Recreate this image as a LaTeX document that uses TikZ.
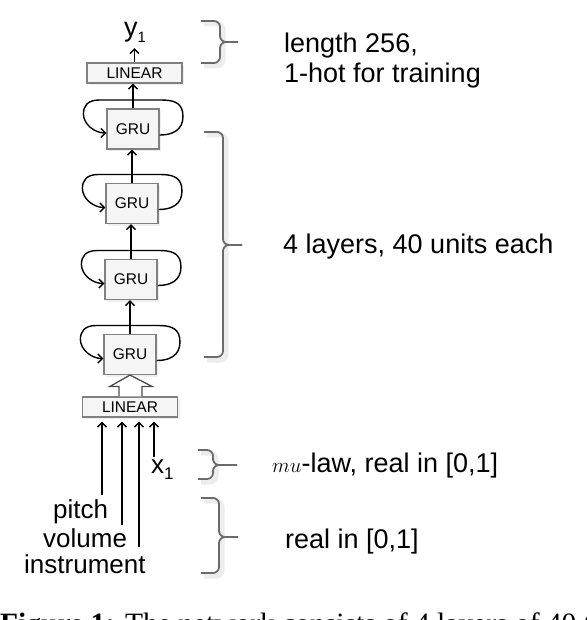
\documentclass[tikz,border=0pt]{standalone}
\usepackage{fontspec}
\setmainfont{Liberation Sans}
\newfontfamily\capfont{Liberation Serif}
\usetikzlibrary{arrows.meta,calc,shadows}

\tikzset{
 conn/.style={draw=black, line width=1.4pt, -{Straight Barb[length=4.5pt,width=9pt]}},
 grubox/.style={draw=black!50, fill=black!4, line width=1.2pt, minimum width=52pt, minimum height=40pt, inner sep=0pt,
   font=\fontsize{15.5}{16}\selectfont, drop shadow={opacity=0.12, shadow xshift=2pt, shadow yshift=-2pt}},
 linbox/.style={grubox, minimum width=95pt, minimum height=20pt},
 lbl/.style={anchor=base west, inner sep=0pt, font=\fontsize{27}{30}\selectfont},
 inlbl/.style={anchor=base west, inner sep=0pt, font=\fontsize{26}{28}\selectfont},
 bracestyle/.style={draw=black!58, line width=1.8pt, rounded corners=6pt},
 bracesh/.style={draw=black!7, line width=5pt, rounded corners=6pt},
 hollow/.style={draw=black!70, fill=white, line width=1.3pt, line join=miter}
}

\newcommand\mybrace[6]{%
 \draw[bracesh] (#1+3,#4+3) -- (#2+3,#4+3) -- (#2+3,#6+3) -- (#1+3,#6+3);
 \draw[bracestyle] (#1,#4) -- (#2,#4) -- (#2,#5) -- (#3,#5);
 \draw[bracestyle] (#3,#5) -- (#2,#5) -- (#2,#6) -- (#1,#6);
}

\begin{document}
\begin{tikzpicture}[x=1pt,y=-1pt]
\useasboundingbox[fill=white] (0,0) rectangle (586,620);

% boxes
\node[linbox] (L2) at (134.5,73) {LINEAR};
\node[grubox] (G1) at (133,129) {GRU};
\node[grubox] (G2) at (132,203.5) {GRU};
\node[grubox] (G3) at (131,279.5) {GRU};
\node[grubox] (G4) at (130,354.5) {GRU};
\node[linbox] (L1) at (130,407) {LINEAR};

% output label
\node[anchor=base west, inner sep=0pt, font=\fontsize{27}{30}\selectfont] (y1) at (124,37)
  {y\raisebox{-6pt}{\fontsize{15}{15}\selectfont 1}};
\draw[conn, shorten >=5pt] (L2.north) -- (L2.north |- y1.south);

% vertical connectors
\draw[conn] (G1.north) -- (G1.north |- L2.south);
\draw[conn] (G2.north) -- (G2.north |- G1.south);
\draw[conn] (G3.north) -- (G3.north |- G2.south);
\draw[conn] (G4.north) -- (G4.north |- G3.south);

% recurrent loops
\foreach \g in {G1,G2,G3,G4}{
 \draw[conn] ($(\g.east)+(0,6)$) .. controls +(19,0) and +(2,13) .. ($(\g.east)+(23,-17)$)
   .. controls +(-2,-10) and +(12,0) .. ($(\g.east)+(1,-29)$)
   -- ($(\g.west)+(-7,-29)$)
   .. controls +(-12,0) and +(0,-8) .. ($(\g.west)+(-23,-15)$)
   .. controls +(0,10) and +(-12,0) .. ($(\g.west)+(0,4)$);
}

% hollow arrow
\draw[hollow] ($(L1.north)+(-11,0)$) -- ($(L1.north)+(-11,-10)$) -- ($(L1.north)+(-20,-10)$)
  -- (G4.south) -- ($(L1.north)+(22,-10)$) -- ($(L1.north)+(12,-10)$) -- ($(L1.north)+(12,0)$);

% inputs
\node[inlbl] (tp) at (53,518) {pitch};
\node[inlbl] (tv) at (43,547) {volume};
\node[inlbl] (ti) at (24,573) {instrument};
\node[inlbl] (tx) at (151,473) {x\raisebox{-6pt}{\fontsize{17}{17}\selectfont 1}};
\coordinate (ap) at (102,495);
\coordinate (av) at (122,525);
\coordinate (ai) at (139,547);
\coordinate (ax) at (154,457);
\foreach \a in {ap,av,ai,ax}{
 \draw[conn, shorten >=4pt] (\a) -- (\a |- L1.south);
}

% braces
\mybrace{201}{220}{238}{21}{42}{63}
\mybrace{204}{223}{242}{132}{245}{357}
\mybrace{198}{213}{237}{450}{465}{479}
\mybrace{201}{219}{238}{498}{537}{573}

% right labels
\node[lbl] (r1) at (284,53) {length 256,};
\node[lbl] (r2) at (284,83) {1-hot for training};
\node[lbl] (r3) at (283,253) {4 layers, 40 units each};
\node[lbl] (r4) at (272,472) {{\fontsize{22}{22}\selectfont$mu$}-law, real in [0,1]};
\node[lbl] (r5) at (285,548) {real in [0,1]};

% caption (cut off by the page edge)
\node[anchor=base west, inner sep=0pt, font=\capfont\fontsize{29.5}{30}\selectfont] (cap) at (0,633)
  {\textbf{Figure 1:} The network consists of 4 layers of 40 GRU};
\end{tikzpicture}
\end{document}
